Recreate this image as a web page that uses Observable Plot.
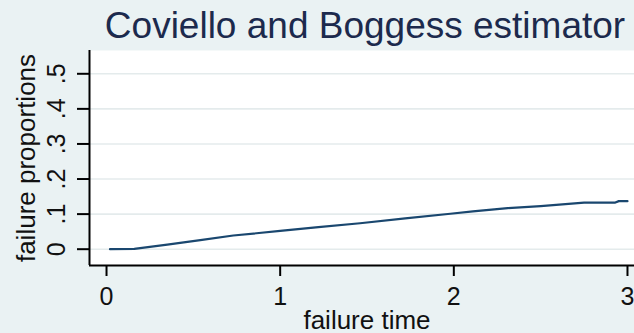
<!DOCTYPE html>
<html>
<head>
<meta charset="utf-8">
<script src="https://cdn.jsdelivr.net/npm/d3@7"></script>
<script src="https://cdn.jsdelivr.net/npm/@observablehq/plot@0.6"></script>
<style>
  html, body { margin: 0; padding: 0; background: #EAF2F3; overflow: hidden; }
  #chart { width: 650px; height: 333px; overflow: hidden; }
  #chart svg { max-width: none !important; }
</style>
</head>
<body>
<div id="chart"></div>
<script>
// Cumulative failure proportion (Coviello and Boggess estimator) by failure time
const failureTime = [0.02, 0.16, 0.35, 0.54, 0.73, 1.0, 1.22, 1.46, 1.72, 1.98, 2.11, 2.31, 2.5, 2.75, 2.93, 2.95, 3.0];
const failureProportion = [0, 0.001, 0.013, 0.026, 0.039, 0.052, 0.063, 0.074, 0.088, 0.101, 0.108, 0.117, 0.123, 0.133, 0.133, 0.137, 0.137];

const xTicks = [0, 1, 2, 3];
const xTickLabels = ["0", "1", "2", "3"];
const yTicks = [0, 0.1, 0.2, 0.3, 0.4, 0.5];
const yTickLabels = ["0", ".1", ".2", ".3", ".4", ".5"];

const titleText = "Coviello and Boggess estimator";
const xTitle = "failure time";
const yTitle = "failure proportions";

const curve = failureTime.map((t, i) => ({t, p: failureProportion[i]}));

const xDomain = [-0.098, 3.098];
const yDomain = [-0.0465, 0.5664];
const font = "'Liberation Sans', Arial, Helvetica, sans-serif";

const chart = Plot.plot({
  width: 650,
  height: 333,
  marginLeft: 89,
  marginRight: 6,
  marginTop: 50,
  marginBottom: 68,
  style: {background: "#EAF2F3", fontFamily: font, color: "#111", maxWidth: "none"},
  x: {domain: xDomain},
  y: {domain: yDomain},
  marks: [
    Plot.frame({fill: "white", stroke: null}),
    Plot.gridY(yTicks, {stroke: "#E4EBEC", strokeOpacity: 1, strokeWidth: 1.6}),
    Plot.line(curve, {x: "t", y: "p", stroke: "#1A476F", strokeWidth: 2.2}),
    // axis lines on the left and bottom edges
    Plot.ruleX([xDomain[0]], {stroke: "#000", strokeWidth: 2}),
    Plot.ruleY([yDomain[0]], {stroke: "#000", strokeWidth: 2}),
    Plot.axisX({ticks: xTicks, tickSize: 11, tickPadding: 11, fontSize: 25, strokeWidth: 2, stroke: "#000",
      tickFormat: (d) => xTickLabels[xTicks.indexOf(d)], label: null}),
    Plot.axisY({ticks: yTicks, tickSize: 12, tickPadding: 13, tickRotate: -90, fontSize: 25, strokeWidth: 2, stroke: "#000",
      tickFormat: (d) => yTickLabels[yTicks.indexOf(d)], label: null}),
    Plot.text([titleText], {text: (d) => d, frameAnchor: "top", dy: -13, dx: -2, lineAnchor: "bottom",
      fontSize: 37, fill: "#1C2A4D"}),
    Plot.text([xTitle], {text: (d) => d, frameAnchor: "bottom", dy: 63, lineAnchor: "bottom",
      fontSize: 26, fill: "#111"}),
    Plot.text([yTitle], {text: (d) => d, frameAnchor: "left", dx: -55, rotate: -90, lineAnchor: "bottom",
      textAnchor: "middle", fontSize: 26, fill: "#111"})
  ]
});

document.getElementById("chart").appendChild(chart);
</script>
</body>
</html>
